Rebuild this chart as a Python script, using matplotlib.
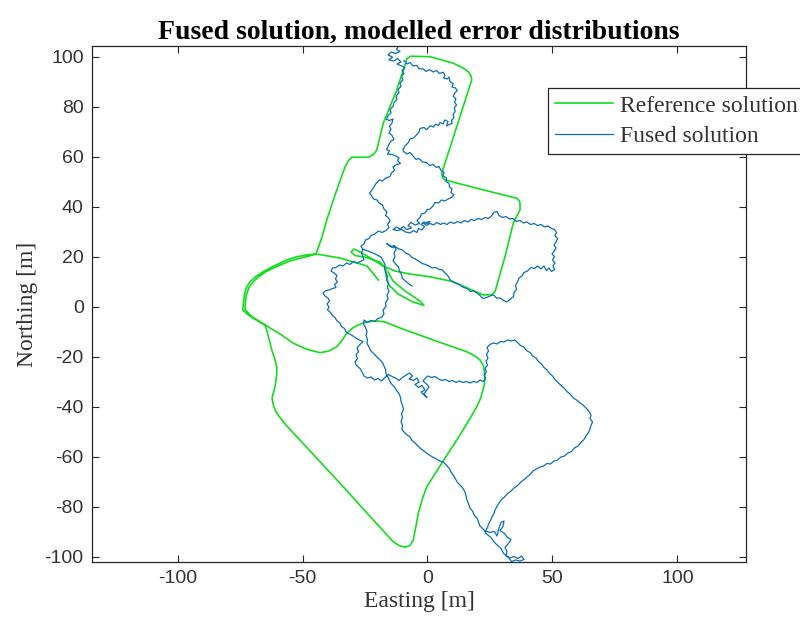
#### 1.import ####
import numpy as np
import matplotlib
matplotlib.use("Agg")
import matplotlib.pyplot as plt

plt.rcParams['axes.unicode_minus'] = False

#### 2.data (Easting, Northing in m) ####
# reference solution, pieces in driving order
ref_stub = [(-19.7, 10.8), (-22.2, 14.0), (-24.2, 16.4), (-31.0, 18.4), (-35.0, 19.6), (-44.6, 21.2)]
ref_west_loop = [(-44.6, 21.2), (-48.5, 20.8), (-52.3, 20.1), (-55.8, 19.0), (-59.0, 17.5), (-62.5, 15.9),
                 (-65.7, 14.1), (-68.6, 12.2), (-71.0, 10.1), (-72.4, 7.8), (-73.2, 5.0), (-73.6, 2.0),
                 (-73.9, -1.2), (-72.2, -2.8), (-70.2, -4.2), (-67.6, -5.7), (-65.0, -7.2)]
ref_south_loop = [(-65.0, -7.2), (-59.0, -10.8), (-53.7, -14.5), (-48.6, -16.8), (-43.0, -18.3), (-39.4, -17.6),
                  (-36.3, -15.9), (-34.2, -13.4), (-32.3, -10.5), (-30.4, -8.8), (-28.6, -7.6), (-25.8, -6.4),
                  (-23.0, -5.8), (-20.0, -5.6), (-17.0, -6.0), (-11.0, -8.4), (2.3, -13.2), (15.7, -17.9),
                  (19.0, -19.6), (21.0, -21.2), (22.4, -23.6), (23.0, -27.9), (22.8, -30.6), (22.2, -33.2),
                  (21.2, -36.6), (19.7, -39.9), (16.4, -45.6), (13.0, -51.2), (5.7, -62.5), (-0.3, -71.9),
                  (-2.0, -76.6), (-3.7, -82.5), (-4.6, -87.6), (-5.7, -93.2), (-7.0, -95.4), (-9.0, -96.1),
                  (-11.4, -95.4), (-13.7, -93.9), (-21.7, -85.2), (-35.0, -70.5), (-52.3, -51.9), (-57.0, -46.8),
                  (-60.3, -42.5), (-61.6, -39.6), (-62.2, -36.4), (-61.0, -31.9), (-60.3, -27.0), (-60.3, -23.9),
                  (-61.2, -20.4), (-62.3, -17.2), (-63.8, -11.2), (-65.0, -7.2)]
ref_west_back = [(-65.0, -7.2), (-67.8, -5.4), (-70.4, -3.8), (-73.0, -1.0), (-72.8, 2.0), (-72.4, 5.0),
                 (-71.4, 7.8), (-69.8, 10.0), (-67.6, 12.0), (-64.8, 14.0), (-61.6, 15.6), (-58.4, 17.0),
                 (-55.0, 18.4), (-51.6, 19.4), (-48.0, 20.2), (-44.6, 21.2)]
ref_north = [(-44.6, 21.2), (-42.2, 28.0), (-40.3, 34.8), (-37.0, 44.8), (-33.0, 56.0), (-31.6, 58.6),
             (-30.3, 59.9), (-23.7, 59.9), (-21.6, 61.0), (-20.3, 62.8), (-17.7, 73.5), (-12.3, 86.8),
             (-9.0, 96.8), (-8.2, 99.4), (-6.6, 100.3), (1.0, 100.1), (10.3, 97.5), (14.2, 95.6),
             (16.3, 94.1), (17.4, 92.4), (17.7, 90.8), (5.7, 53.5), (6.0, 51.8), (7.0, 50.8),
             (19.7, 47.5), (35.7, 43.5), (36.8, 42.4), (37.0, 41.5), (37.0, 38.8), (34.3, 33.5),
             (31.0, 20.1), (27.0, 6.1), (25.8, 5.0), (22.3, 4.8), (10.3, 10.1), (1.0, 12.1),
             (-7.0, 13.2), (-13.0, 14.4), (-17.8, 16.4), (-22.2, 19.2), (-26.2, 21.6), (-29.4, 23.2),
             (-30.6, 22.0), (-29.0, 20.6), (-24.6, 19.8), (-19.0, 18.0), (-16.6, 15.2), (-16.6, 12.4),
             (-15.4, 8.8), (-11.8, 5.2), (-5.8, 2.0), (-1.4, 0.6), (-3.0, 2.4), (-9.0, 6.4),
             (-13.8, 10.4), (-15.8, 14.0)]

# fused solution, first stroke: north cluster -> west track -> centre -> south
fused_west_track = [(-11.6, 104.4), (-12.4, 103.0), (-11.0, 102.2), (-12.8, 101.4), (-14.4, 102.0), (-15.8, 100.8),
                    (-14.0, 100.0), (-15.4, 98.8), (-13.4, 98.4), (-12.0, 99.4), (-10.6, 98.0), (-12.2, 97.2),
                    (-10.4, 96.4), (-9.0, 95.6), (-10.2, 94.6), (-9.4, 93.4), (-10.4, 92.2), (-9.8, 90.8),
                    (-11.0, 89.6), (-10.6, 88.2), (-11.8, 87.0), (-11.4, 85.6), (-12.6, 84.4), (-12.2, 83.0),
                    (-13.4, 81.8), (-13.8, 80.2), (-15.0, 79.0), (-14.6, 77.6), (-15.8, 76.6), (-16.4, 75.0),
                    (-15.2, 74.6), (-13.8, 75.2), (-14.2, 73.6), (-15.2, 72.4), (-14.6, 71.0), (-15.4, 69.6),
                    (-14.2, 68.6), (-13.4, 67.0), (-14.8, 66.2), (-15.6, 64.6), (-16.4, 63.0), (-15.2, 62.4),
                    (-16.0, 61.2), (-14.2, 61.0), (-12.6, 60.4), (-11.4, 59.6), (-12.0, 58.6), (-10.8, 57.4),
                    (-12.4, 57.0), (-13.8, 56.0), (-13.2, 54.6), (-14.4, 53.6), (-15.0, 52.2), (-16.6, 51.6),
                    (-18.0, 50.4), (-19.2, 50.8), (-20.6, 49.4), (-21.4, 48.0), (-22.2, 46.8), (-23.2, 45.6),
                    (-22.4, 44.6), (-21.6, 43.2), (-20.2, 42.8), (-19.4, 41.6), (-18.0, 40.8), (-17.4, 39.2),
                    (-16.2, 38.0), (-16.8, 36.6), (-15.6, 35.6), (-15.0, 34.4), (-16.0, 33.0), (-15.4, 31.8),
                    (-16.6, 30.6), (-18.2, 29.8), (-19.6, 30.4), (-21.0, 29.2), (-22.6, 28.6), (-23.4, 27.4),
                    (-24.8, 26.8), (-25.4, 25.2), (-26.6, 24.4), (-25.8, 23.0), (-26.4, 21.8)]
fused_west_loop = [(-26.4, 21.8), (-26.0, 20.4), (-25.4, 19.0), (-26.8, 18.2), (-28.2, 17.6), (-29.6, 18.2),
                   (-31.0, 17.0), (-32.4, 17.6), (-33.8, 16.4), (-35.2, 16.8), (-36.6, 15.8), (-38.0, 15.6),
                   (-38.6, 14.4), (-37.4, 13.6), (-36.2, 12.6), (-36.8, 11.2), (-36.0, 10.0), (-37.2, 9.0),
                   (-36.6, 7.8), (-38.0, 7.4), (-39.4, 6.8), (-40.6, 6.6), (-41.8, 5.6), (-41.0, 4.4),
                   (-39.8, 3.6), (-39.2, 2.4), (-40.2, 1.2), (-39.4, 0.0), (-40.0, -1.2), (-38.8, -2.2),
                   (-38.0, -3.4), (-37.0, -4.2), (-36.2, -5.6), (-35.0, -6.4), (-34.4, -7.8), (-33.2, -8.6),
                   (-32.6, -10.0), (-31.2, -10.8), (-29.8, -11.6), (-28.4, -12.6), (-27.2, -13.2), (-25.8, -13.8),
                   (-27.0, -15.0), (-28.2, -16.4), (-27.6, -17.8), (-28.6, -19.2), (-28.0, -20.6), (-29.0, -22.0),
                   (-28.4, -23.4), (-27.0, -24.6), (-26.2, -26.0), (-25.4, -27.6), (-24.0, -28.4), (-22.6, -28.0),
                   (-21.2, -29.2), (-19.8, -28.6), (-18.4, -29.6), (-17.0, -28.2), (-15.6, -27.0), (-14.2, -27.8),
                   (-12.8, -28.4), (-11.4, -29.4), (-10.0, -28.2), (-8.6, -27.2), (-7.2, -26.4)]
fused_mid_cluster = [(-6.0, -27.6), (-7.4, -28.8), (-5.6, -29.4), (-4.2, -28.4), (-3.4, -30.0), (-5.0, -31.0),
                     (-3.6, -32.2), (-2.2, -31.4), (-1.0, -33.2), (-2.6, -34.0), (-1.2, -35.4), (-0.2, -36.2),
                     (-1.4, -34.8), (-0.4, -33.4), (0.6, -32.0), (-0.6, -30.6), (-1.8, -29.6), (-0.8, -28.4),
                     (0.2, -27.6)]
fused_east_run = [(1.6, -28.2), (3.0, -27.8), (4.4, -28.8), (5.8, -29.4), (7.2, -29.0), (8.6, -29.8),
                  (10.0, -29.4), (11.4, -30.2), (12.8, -29.6), (14.2, -30.2), (15.6, -29.8), (17.0, -30.4),
                  (18.4, -29.8), (19.8, -30.2), (21.0, -29.2), (22.2, -29.8), (23.2, -28.6), (22.6, -27.2),
                  (23.6, -26.0), (23.0, -24.6), (24.0, -23.2), (23.4, -21.8), (24.2, -20.4), (23.6, -19.0),
                  (24.4, -17.6), (23.8, -16.2)]
fused_south_loop = [(25.0, -15.0), (26.4, -14.4), (27.8, -14.8), (29.2, -13.8), (30.6, -14.0), (32.0, -13.2),
                    (33.4, -13.6), (34.8, -13.2), (36.0, -14.2), (37.2, -15.4), (38.4, -16.0), (39.6, -17.4),
                    (41.0, -18.2), (42.0, -19.6), (43.4, -20.4), (44.4, -21.8), (45.6, -22.8), (46.6, -24.2),
                    (47.8, -25.2), (48.8, -26.6), (50.0, -27.6), (51.0, -29.0), (52.2, -30.2), (53.4, -31.4),
                    (54.6, -32.4), (55.8, -33.8), (57.0, -34.8), (58.4, -36.4), (59.6, -37.2), (61.0, -38.4),
                    (62.2, -39.2), (63.6, -40.6), (64.6, -41.8), (65.4, -43.2), (65.0, -44.6), (66.0, -46.0),
                    (65.4, -47.4), (65.0, -48.8), (64.4, -50.2), (63.4, -51.6), (62.6, -53.0), (61.4, -54.2),
                    (60.2, -55.6), (58.8, -56.4), (57.6, -57.8), (56.2, -58.4), (54.8, -59.6), (53.4, -60.0),
                    (52.0, -61.2), (50.6, -61.6), (49.2, -62.8), (47.8, -62.6), (46.4, -63.6), (45.0, -64.0),
                    (43.6, -64.8), (42.2, -65.6), (41.0, -67.0), (39.8, -68.0), (38.4, -69.2), (37.2, -70.2),
                    (35.8, -71.6), (34.6, -72.4), (33.2, -73.8), (32.0, -74.6), (30.8, -76.0), (29.6, -77.0),
                    (28.6, -78.4), (27.8, -79.8), (27.0, -81.2), (26.6, -82.6), (25.8, -84.0), (25.2, -85.4),
                    (24.4, -86.8), (24.0, -88.2)]
fused_south_cluster = [(23.2, -89.6), (25.0, -90.2), (26.8, -89.8), (27.8, -91.6), (28.6, -88.4), (29.4, -86.2),
                       (30.6, -85.6), (30.2, -87.8), (29.0, -89.4), (30.8, -90.6), (32.0, -92.2), (33.4, -93.0),
                       (32.2, -94.8), (31.0, -96.2), (31.8, -97.8), (31.4, -99.4), (33.0, -100.4), (34.6, -99.8),
                       (36.2, -100.6), (37.6, -99.6), (38.6, -101.0), (37.0, -101.6), (35.2, -101.2), (33.6, -101.8),
                       (32.4, -100.2), (30.6, -98.8), (29.2, -96.4), (27.6, -95.0), (26.4, -93.6), (25.2, -92.0),
                       (23.6, -90.8)]
fused_return = [(22.4, -89.0), (21.0, -87.6), (20.4, -86.0), (19.8, -84.4), (18.6, -83.2), (18.0, -81.6),
                (17.0, -80.4), (16.4, -78.8), (15.8, -77.2), (15.4, -75.6), (15.0, -74.0), (14.2, -72.6),
                (13.2, -71.4), (12.0, -70.2), (11.2, -68.8), (10.4, -67.4), (9.4, -66.0), (8.8, -64.6),
                (7.6, -63.4), (6.4, -62.0), (5.0, -61.6), (3.6, -60.8), (2.4, -60.2), (1.0, -59.4),
                (-0.2, -58.6), (-1.4, -57.6), (-2.8, -56.6), (-3.8, -55.6), (-5.0, -54.4), (-6.2, -53.4),
                (-7.0, -52.0), (-8.2, -51.2), (-9.2, -50.2), (-10.2, -49.0), (-10.0, -47.4), (-10.6, -45.8),
                (-10.0, -44.2), (-10.4, -42.6), (-9.6, -41.0), (-10.0, -39.4), (-10.6, -37.8), (-10.8, -36.2),
                (-11.4, -34.6), (-12.4, -33.4), (-13.2, -32.0), (-14.4, -30.8), (-15.2, -29.4), (-15.8, -28.0),
                (-16.6, -26.6), (-16.8, -25.0), (-17.4, -23.6), (-18.0, -22.2), (-19.2, -21.0), (-20.4, -19.8),
                (-21.6, -18.6), (-22.8, -17.4), (-23.4, -16.0), (-24.2, -14.6), (-24.0, -13.0), (-24.6, -11.4),
                (-24.2, -9.8), (-24.8, -8.2), (-25.6, -6.8), (-25.4, -5.2), (-24.0, -6.2), (-22.6, -5.4),
                (-21.2, -5.8), (-19.8, -4.6), (-18.4, -4.2), (-17.4, -2.8), (-17.8, -1.2), (-16.6, 0.2),
                (-16.8, 1.8), (-15.8, 3.2), (-16.2, 4.8), (-15.4, 6.2), (-16.0, 7.8), (-15.6, 9.4),
                (-16.4, 10.8), (-16.0, 12.4), (-16.8, 13.8), (-17.2, 15.4), (-17.0, 17.0), (-17.8, 18.6),
                (-18.6, 20.0), (-19.8, 20.6), (-21.4, 21.4), (-22.8, 22.0), (-24.4, 22.6), (-25.6, 23.0)]

# fused solution, second stroke: east track -> east box -> back to centre
fused_east_track = [(-9.4, 98.5), (-8.2, 97.2), (-7.0, 97.8), (-5.8, 96.4), (-4.3, 96.6), (-3.4, 95.3),
                    (-1.7, 95.2), (-0.6, 94.2), (0.8, 94.9), (2.3, 94.0), (3.6, 94.6), (4.8, 93.4),
                    (6.3, 93.9), (7.0, 92.6), (6.4, 91.6), (7.9, 91.2), (8.6, 92.0), (9.0, 90.2),
                    (10.3, 89.3), (9.8, 88.0), (11.2, 87.6), (11.9, 86.5), (10.9, 85.7), (10.3, 84.3),
                    (11.4, 83.2), (10.8, 82.0), (11.6, 80.8), (10.7, 79.6), (11.1, 78.2), (10.2, 77.0),
                    (10.6, 75.8), (9.6, 74.6), (9.9, 73.4), (8.7, 73.0), (7.6, 72.4), (8.2, 74.2),
                    (6.9, 74.8), (6.2, 73.2), (5.0, 73.8), (4.4, 72.6), (3.3, 73.1), (2.3, 72.0),
                    (1.1, 72.5), (-0.3, 70.9), (-1.4, 71.8), (-3.0, 71.4), (-3.4, 70.0), (-4.6, 68.6),
                    (-5.6, 67.6), (-7.0, 67.2), (-7.6, 65.8), (-9.0, 64.4), (-9.8, 63.0)]
fused_diagonal = [(-9.6, 62.2), (-8.2, 61.2), (-7.0, 61.8), (-5.8, 60.4), (-4.6, 59.0), (-3.4, 59.4),
                  (-2.0, 58.0), (-0.4, 57.8), (0.8, 56.6), (2.2, 57.0), (3.6, 55.8), (4.6, 56.2),
                  (5.4, 54.6), (6.6, 53.8), (6.2, 52.4), (7.6, 51.6), (7.4, 50.2), (8.6, 49.4),
                  (8.8, 48.0), (9.8, 47.2), (9.4, 45.8), (10.6, 44.8), (9.6, 43.8), (8.2, 43.2),
                  (7.0, 42.4), (5.6, 42.8), (4.4, 41.6), (3.0, 41.8), (2.2, 40.4), (1.0, 39.2),
                  (-0.2, 38.8), (-1.0, 37.6), (-2.4, 37.2), (-3.0, 35.8)]
fused_box_cluster = [(-4.2, 34.6), (-3.2, 33.4), (-5.0, 32.8), (-6.6, 33.8), (-7.8, 32.6), (-6.4, 31.6),
                     (-8.4, 31.0), (-9.6, 32.2), (-11.0, 31.2), (-12.4, 32.0), (-13.8, 31.0), (-12.2, 30.6),
                     (-10.4, 31.0), (-8.8, 30.0), (-7.0, 29.6), (-5.6, 30.6), (-4.2, 29.8), (-3.6, 31.4),
                     (-2.2, 30.8), (-1.2, 32.2), (-2.6, 33.0), (-1.4, 34.0), (0.2, 33.2), (1.0, 34.2)]
fused_east_box = [(-1.7, 33.6), (-0.4, 32.6), (1.0, 33.4), (2.4, 32.8), (3.8, 33.8), (5.2, 33.0),
                  (6.4, 33.6), (7.8, 33.0), (9.2, 34.0), (10.6, 33.4), (12.0, 34.2), (13.4, 33.6),
                  (14.8, 34.6), (16.2, 34.0), (17.4, 35.0), (18.8, 34.6), (20.2, 35.4), (21.6, 35.0),
                  (23.0, 35.8), (24.4, 35.4), (25.6, 36.4), (26.6, 37.8), (27.8, 38.2), (28.6, 36.6),
                  (30.0, 35.8), (31.4, 36.2), (32.8, 35.2), (34.2, 35.4), (35.6, 34.2), (37.0, 34.6),
                  (38.4, 33.6), (39.8, 34.0), (41.2, 33.0), (42.6, 33.4), (44.0, 32.6), (45.4, 33.0),
                  (46.8, 32.0), (48.2, 32.4), (49.6, 31.4), (50.8, 31.0), (51.6, 29.8), (51.0, 28.6),
                  (52.0, 27.4), (51.4, 26.0), (50.6, 24.8), (51.4, 23.6), (50.6, 22.2), (49.8, 21.2),
                  (50.8, 20.2), (50.0, 18.8), (51.0, 17.6), (50.2, 16.4), (50.8, 15.0), (49.6, 14.2),
                  (48.6, 15.6), (47.6, 14.6), (46.6, 16.4), (45.4, 15.2), (44.0, 16.4), (42.8, 15.4),
                  (41.4, 15.8), (40.0, 14.4), (38.6, 13.8), (37.8, 12.4), (36.6, 11.6), (36.0, 10.0),
                  (35.2, 8.6), (35.6, 7.0), (34.6, 5.8), (34.4, 4.2), (33.0, 3.0), (31.6, 2.0),
                  (30.2, 2.8), (29.0, 3.6), (27.6, 3.6), (26.4, 4.8), (25.0, 4.4), (23.6, 3.8),
                  (22.2, 3.4), (21.0, 4.6), (19.8, 5.6), (18.4, 6.4), (17.2, 6.2), (15.8, 7.4),
                  (14.4, 7.8), (13.0, 8.8), (11.6, 9.4), (10.2, 10.0), (9.0, 11.0), (8.2, 12.4),
                  (7.0, 13.6), (6.0, 14.8), (4.6, 15.0), (3.2, 15.8), (1.8, 15.6), (0.6, 16.4),
                  (-0.8, 17.0), (-2.2, 17.4), (-3.6, 18.4), (-4.8, 19.2), (-6.2, 19.8), (-7.4, 21.0),
                  (-8.8, 21.6), (-10.0, 22.8), (-11.4, 23.2), (-12.8, 24.0), (-14.2, 23.8), (-15.4, 24.8),
                  (-16.4, 25.4)]
fused_spur = [(-16.4, 25.4), (-14.8, 24.2), (-13.2, 24.6), (-12.6, 23.0), (-13.4, 21.6), (-13.0, 20.0),
              (-13.8, 18.6), (-12.8, 17.2), (-11.6, 16.0), (-11.2, 14.4), (-10.4, 13.0), (-10.0, 11.4),
              (-8.8, 10.4), (-7.4, 9.2), (-6.2, 8.4)]

x_ticks = [-100, -50, 0, 50, 100]
y_ticks = [-100, -80, -60, -40, -20, 0, 20, 40, 60, 80, 100]


#### 3.helpers ####
def join_strokes(strokes):
    # each stroke is a list of pieces; strokes are split by NaN
    xs, ys = [], []
    for i, stroke in enumerate(strokes):
        if i > 0:
            xs.append(np.nan)
            ys.append(np.nan)
        for piece in stroke:
            for x, y in piece:
                xs.append(x)
                ys.append(y)
    return np.array(xs), np.array(ys)


ref_x, ref_y = join_strokes([[ref_stub, ref_west_loop, ref_south_loop, ref_west_back, ref_north]])
fused_x, fused_y = join_strokes([
    [fused_west_track, fused_west_loop, fused_mid_cluster, fused_east_run,
     fused_south_loop, fused_south_cluster, fused_return],
    [fused_east_track, fused_diagonal, fused_box_cluster, fused_east_box, fused_spur],
])


#### 4.plot ####
fig = plt.figure(figsize=(8.0, 6.28), dpi=100)
ax = fig.add_axes([0.115, 0.1051, 0.8175, 0.8217])

ax.plot(ref_x, ref_y, color='#14dc1e', lw=1.2, label='Reference solution')
ax.plot(fused_x, fused_y, color='#0a6fb5', lw=0.9, label='Fused solution')

ax.set_xlim(-134.2, 127.4)
ax.set_ylim(-102.0, 104.4)
ax.set_xticks(x_ticks)
ax.set_yticks(y_ticks)

tick_font = {'family': 'Liberation Sans', 'size': 14}
ax.set_xticklabels([str(t) for t in x_ticks], **tick_font)
ax.set_yticklabels([str(t) for t in y_ticks], **tick_font)
ax.tick_params(direction='in', length=5, width=0.8, top=True, right=True,
               colors='#262626', labelcolor='#333333', pad=6)
for s in ax.spines.values():
    s.set_linewidth(0.9)
    s.set_color('#262626')

ax.set_xlabel('Easting [m]', family='Liberation Serif', fontsize=17, color='#333333', labelpad=3)
ax.set_ylabel('Northing [m]', family='Liberation Serif', fontsize=17, color='#333333', labelpad=5)
ax.set_title('Fused solution, modelled error distributions', family='Liberation Serif',
             fontsize=20, fontweight='bold', pad=5)

# legend runs past the right edge of the figure, as in the original
leg = ax.legend(loc='upper left', bbox_to_anchor=(548 / 800, 1 - 88 / 628),
                bbox_transform=fig.transFigure, borderaxespad=0, fancybox=False,
                framealpha=1, edgecolor='#262626', handlelength=2.45, handletextpad=0.3,
                borderpad=0.3, labelspacing=0.38,
                prop={'family': 'Liberation Serif', 'size': 17})
leg.get_frame().set_linewidth(0.9)
for t in leg.get_texts():
    t.set_color('#333333')

fig.savefig('out.png', dpi=100)
